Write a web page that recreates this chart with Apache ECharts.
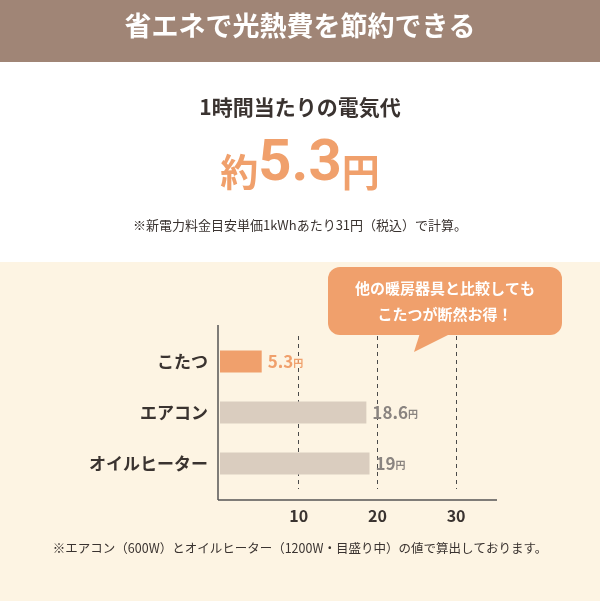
<!DOCTYPE html>
<html><head><meta charset="utf-8">
<script src="https://cdn.jsdelivr.net/npm/echarts@6/dist/echarts.min.js"></script>
<style>html,body{margin:0;padding:0;background:#fff}#c{width:600px;height:601px}</style>
</head><body><div id="c"></div>
<script>
// データ
var categories = ['こたつ', 'エアコン', 'オイルヒーター'];
var costs = [5.3, 18.6, 19];
var ticks = [10, 20, 30];

var font = '"Noto Sans CJK JP", sans-serif';
var orange = '#f0a06c';
var beige = '#dacdbf';

var chart = echarts.init(document.getElementById('c'));
chart.setOption({
    backgroundColor: '#fff',
    textStyle: { fontFamily: font },
    grid: { left: 220, right: 103, top: 336, bottom: 112 },
    xAxis: {
        type: 'value', min: 0, max: 35.2, interval: 10,
        offset: 11,
        axisLine: { show: false }, axisTick: { show: false },
        axisLabel: {
            margin: 8, color: '#3a3330', fontSize: 16, fontWeight: 'bold',
            formatter: function (v) { return ticks.indexOf(v) >= 0 ? v : ''; }
        },
        splitLine: { show: true, showMinLine: false, showMaxLine: false, lineStyle: { color: '#4a4a4a', type: [4, 4], width: 1 } }
    },
    yAxis: {
        type: 'category', inverse: true, data: categories,
        axisLine: { show: false }, axisTick: { show: false },
        axisLabel: { margin: 12, color: '#3a3330', fontSize: 17, fontWeight: 'bold' }
    },
    series: [{
        type: 'bar', barWidth: 22, silent: true,
        data: costs.map(function (v, i) {
            return {
                value: v,
                itemStyle: { color: i == 0 ? orange : beige },
                label: {
                    show: true, position: 'right', distance: 6,
                    formatter: '{n|' + v + '}{u|円}',
                    rich: {
                        n: { fontSize: 17, fontWeight: 'bold', color: i == 0 ? orange : '#8a8480', fontFamily: font },
                        u: { fontSize: 10, fontWeight: 'bold', color: i == 0 ? orange : '#8a8480', fontFamily: font, padding: [4, 0, 0, 0] }
                    }
                }
            };
        })
    }],
    graphic: [
        // 背景
        { type: 'rect', z: -10, shape: { x: 0, y: 262, width: 600, height: 339 }, style: { fill: '#fdf4e3' } },
        { type: 'rect', shape: { x: 0, y: 0, width: 600, height: 62 }, style: { fill: '#a08576' } },
        { type: 'text', left: 'center', top: 12, style: { text: '省エネで光熱費を節約できる', fill: '#fff', font: 'bold 27px ' + font } },
        { type: 'text', left: 'center', top: 97, style: { text: '1時間当たりの電気代', fill: '#3a3330', font: 'bold 21px ' + font } },
        { type: 'text', left: 'center', top: 136, style: {
            text: '{a|約}{b|5.3}{a|円}',
            rich: {
                a: { fontSize: 38, fontWeight: 'bold', fill: orange, fontFamily: font, padding: [14, 0, 0, 0] },
                b: { fontSize: 58, fontWeight: 'bold', fill: orange, fontFamily: 'Roboto, sans-serif' }
            } } },
        { type: 'text', left: 'center', top: 219, style: { text: '※新電力料金目安単価1kWhあたり31円（税込）で計算。', fill: '#3a3330', font: '13px ' + font } },
        // 軸
        { type: 'line', shape: { x1: 218, y1: 325, x2: 218, y2: 500 }, style: { stroke: '#555', lineWidth: 1.5 } },
        { type: 'line', shape: { x1: 218, y1: 500, x2: 497, y2: 500 }, style: { stroke: '#555', lineWidth: 1.5 } },
        // 吹き出し
        { type: 'rect', shape: { x: 328, y: 267, width: 234, height: 68, r: 12 }, style: { fill: orange } },
        { type: 'polygon', shape: { points: [[420, 333], [452, 333], [414, 352]] }, style: { fill: orange } },
        { type: 'text', x: 445, y: 275, style: { text: '他の暖房器具と比較しても\nこたつが断然お得！', align: 'center', fill: '#fff', font: 'bold 15px ' + font, lineHeight: 26 } },
        { type: 'text', left: 'center', top: 542, style: { text: '※エアコン（600W）とオイルヒーター（1200W・目盛り中）の値で算出しております。', fill: '#3a3330', font: '12.5px ' + font } }
    ]
});
</script>
</body></html>
